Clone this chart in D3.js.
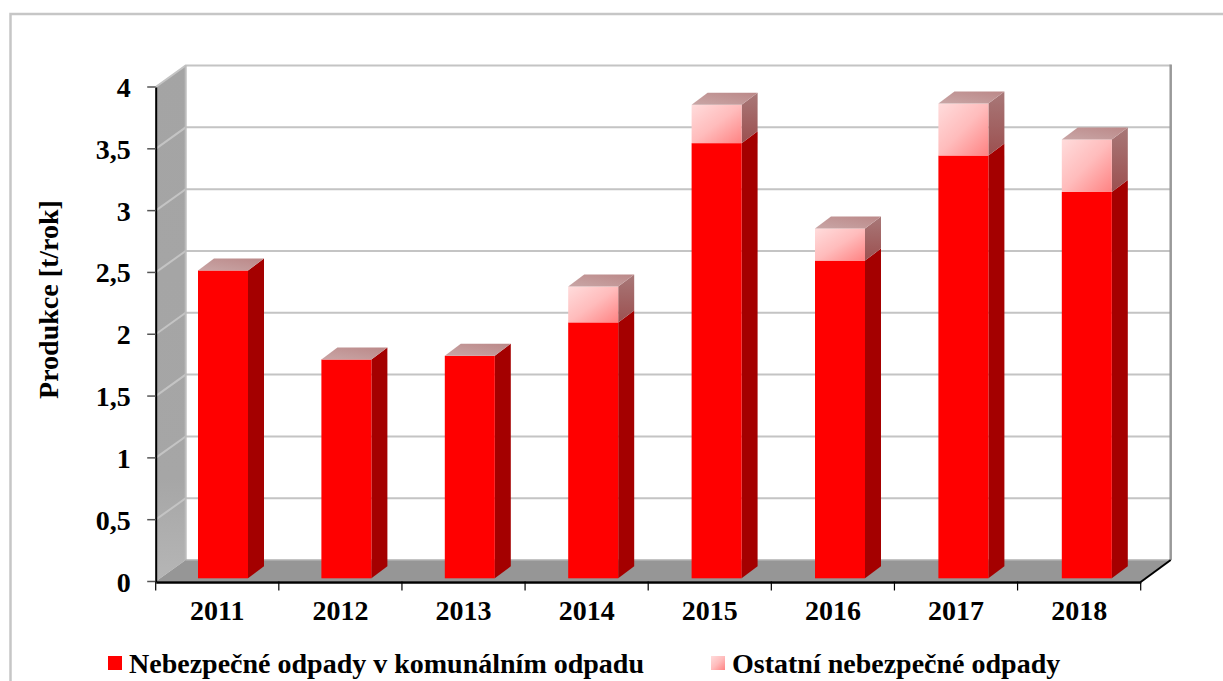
<!DOCTYPE html>
<html><head><meta charset="utf-8">
<script src="https://cdn.jsdelivr.net/npm/d3@7/dist/d3.min.js"></script>
<style>
html,body{margin:0;padding:0;background:#fff;overflow:hidden}
text{font-family:"Liberation Serif","Times New Roman",serif;font-weight:700;fill:#000}
</style></head><body><div id="chart"></div>
<script>
const categories=["2011","2012","2013","2014","2015","2016","2017","2018"];
const hazardousMunicipal=[2.49,1.77,1.80,2.07,3.52,2.57,3.42,3.125];
const otherHazardous=[0,0,0,0.29,0.31,0.26,0.42,0.425];
const yTicks=[0,0.5,1,1.5,2,2.5,3,3.5,4];
const seriesNames=["Nebezpečné odpady v komunálním odpadu","Ostatní nebezpečné odpady"];
const yTitle="Produkce [t/rok]";

const W=1223,H=681;
const plot={left:155.7,right:1140.7,top:87,bottom:581.5};
const wall={dx:30,dy:-21.5};      // depth of the 3-D box
const bar={dx:16,dy:-12,shift:-3.2,width:50}; // depth of each column

const svg=d3.select("#chart").append("svg").attr("width",W).attr("height",H).style("display","block");
const defs=svg.append("defs");
function grad(id,x1,y1,x2,y2,stops){
  const g=defs.append("linearGradient").attr("id",id).attr("x1",x1).attr("y1",y1).attr("x2",x2).attr("y2",y2);
  stops.forEach(s=>g.append("stop").attr("offset",s[0]).attr("stop-color",s[1]));
}
grad("lightFront",0,0,1,1,[[0,"#ffdcdc"],[0.5,"#ffbcbc"],[1,"#ff8282"]]);
grad("lightSide",0,0,0,1,[[0,"#a87878"],[1,"#9c5050"]]);
grad("lightTop",0,1,1,0,[[0,"#c9a6a6"],[1,"#bb8888"]]);
grad("leftWall",0,0,0,1,[[0,"#a4a4a4"],[0.8,"#a6a6a6"],[1,"#b6b6b6"]]);

const y=d3.scaleLinear().domain([0,4]).range([plot.bottom,plot.top]);
const x=d3.scaleBand().domain(categories).range([plot.left,plot.right]);
const xBar=d3.scaleBand().domain(categories).range([198,198+123.4*categories.length]);
const xEdge=d3.scaleLinear().domain([0,categories.length]).range([plot.left,plot.right]);
const poly=p=>p.map(q=>q.join(",")).join(" ");

// border of the chart area
svg.append("path").attr("d",`M10.5,${H}V14H${W}`).attr("fill","none").attr("stroke","#c6c6c6").attr("stroke-width",2.5);

// walls and floor
const box=svg.append("g");
box.append("polygon").attr("fill","url(#leftWall)").attr("points",poly([
  [plot.left,y(4)],[plot.left+wall.dx,y(4)+wall.dy],[plot.left+wall.dx,y(0)+wall.dy],[plot.left,y(0)]]));
box.append("polygon").attr("fill","#969696").attr("points",poly([
  [plot.left,y(0)],[plot.left+wall.dx,y(0)+wall.dy],[plot.right+wall.dx,y(0)+wall.dy],[plot.right,y(0)]]));
box.selectAll("path.grid").data(yTicks.filter(d=>d>0)).join("path").attr("class","grid")
  .attr("d",d=>`M${plot.left},${y(d)}L${plot.left+wall.dx},${y(d)+wall.dy}H${plot.right+wall.dx}`)
  .attr("fill","none").attr("stroke","#c4c4c4").attr("stroke-width",2);
box.append("line").attr("x1",plot.right+wall.dx).attr("x2",plot.right+wall.dx)
  .attr("y1",y(4)+wall.dy-1).attr("y2",y(0)+wall.dy).attr("stroke","#999").attr("stroke-width",2.5);
box.append("line").attr("x1",plot.left+wall.dx).attr("x2",plot.left+wall.dx)
  .attr("y1",y(4)+wall.dy).attr("y2",y(0)+wall.dy).attr("stroke","#bcbcbc").attr("stroke-width",2);
box.append("line").attr("x1",plot.left+wall.dx).attr("x2",plot.right+wall.dx)
  .attr("y1",y(0)+wall.dy).attr("y2",y(0)+wall.dy).attr("stroke","#b0b0b0").attr("stroke-width",1.5);

// columns
const stacks=categories.map((c,i)=>({c,segs:[
  {from:0,to:hazardousMunicipal[i],front:"#ff0000",side:"#a40000"},
  {from:hazardousMunicipal[i],to:hazardousMunicipal[i]+otherHazardous[i],front:"url(#lightFront)",side:"url(#lightSide)"}
].filter(s=>s.to>s.from)}));
const col=svg.append("g").selectAll("g").data(stacks).join("g");
col.each(function(d){
  const g=d3.select(this),l=xBar(d.c),r=l+bar.width;
  d.segs.forEach(s=>{
    const yb=y(s.from)+bar.shift,yt=y(s.to)+bar.shift;
    g.append("polygon").attr("fill",s.side).attr("points",poly([[r,yb],[r+bar.dx,yb+bar.dy],[r+bar.dx,yt+bar.dy],[r,yt]]));
    g.append("rect").attr("x",l).attr("y",yt).attr("width",r-l).attr("height",yb-yt).attr("fill",s.front);
  });
  const top=d.segs[d.segs.length-1],yt=y(top.to)+bar.shift;
  g.append("polygon").attr("fill","url(#lightTop)").attr("points",poly([[l,yt],[l+bar.dx,yt+bar.dy],[r+bar.dx,yt+bar.dy],[r,yt]]));
});

// axes
const yAxis=d3.axisLeft(y).tickValues(yTicks).tickSize(0).tickPadding(25).tickFormat(d=>String(d).replace(".",","));
const yG=svg.append("g").attr("transform",`translate(${plot.left},0)`).call(yAxis);
yG.select(".domain").attr("stroke","#000").attr("stroke-width",2);
yG.selectAll("text").attr("font-size",28).attr("dy","0.34em").style("font-family",'"Liberation Serif",serif').style("font-weight",700);
svg.append("g").selectAll("line").data(yTicks).join("line")
  .attr("x1",plot.left-8.5).attr("x2",plot.left).attr("y1",d=>y(d)).attr("y2",d=>y(d)).attr("stroke","#555").attr("stroke-width",1.5);

const xAxis=d3.axisBottom(x).tickSize(0).tickPadding(18);
const xG=svg.append("g").attr("transform",`translate(0,${plot.bottom+0.5})`).call(xAxis);
xG.select(".domain").attr("stroke","#000").attr("stroke-width",2.5);
xG.selectAll("text").attr("font-size",28).style("font-family",'"Liberation Serif",serif').style("font-weight",700);
svg.append("g").selectAll("line").data(d3.range(categories.length+1)).join("line")
  .attr("x1",d=>xEdge(d)).attr("x2",d=>xEdge(d)).attr("y1",plot.bottom).attr("y2",plot.bottom+9).attr("stroke","#000").attr("stroke-width",1.2);
svg.append("line").attr("x1",plot.right).attr("y1",y(0)+0.5).attr("x2",plot.right+wall.dx).attr("y2",y(0)+wall.dy)
  .attr("stroke","#000").attr("stroke-width",2);

// y title
svg.append("text").attr("transform","translate(58,299.5) rotate(-90)").attr("text-anchor","middle")
  .attr("font-size",28).text(yTitle);

// legend
const legendX=d3.scaleOrdinal().domain(seriesNames).range([108,711]);
const lg=svg.append("g").selectAll("g").data(seriesNames).join("g").attr("transform",d=>`translate(${legendX(d)},656)`);
lg.append("rect").attr("width",14).attr("height",14).attr("fill",(d,i)=>i?"url(#lightFront)":"#ff0000");
lg.append("text").attr("x",21).attr("y",16.5).attr("font-size",28).text(d=>d);
</script></body></html>
